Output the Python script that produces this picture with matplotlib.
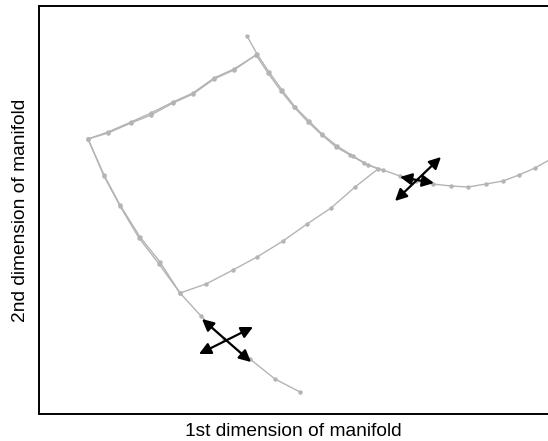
import matplotlib.pyplot as plt

# manifold coordinates of the sampled curves
# closed patch: top edge, right edge, middle edge, left edge
patch_x = [0.49, 0.69, 0.92, 1.12, 1.34, 1.54, 1.75, 1.95, 2.17,
           2.29, 2.42, 2.55, 2.69, 2.83, 2.97, 3.11, 3.25, 3.39,
           3.16, 2.92, 2.68, 2.44, 2.18, 1.94, 1.67, 1.41,
           1.20, 1.00, 0.81, 0.65, 0.49]
patch_y = [2.75, 2.81, 2.91, 2.99, 3.11, 3.20, 3.35, 3.44, 3.59,
           3.41, 3.23, 3.07, 2.92, 2.79, 2.67, 2.59, 2.51, 2.45,
           2.27, 2.06, 1.90, 1.73, 1.57, 1.44, 1.30, 1.21,
           1.50, 1.76, 2.08, 2.38, 2.75]

# curve running along the top and down the left side
curve1_x = [2.17, 1.95, 1.75, 1.54, 1.34, 1.12, 0.92, 0.69, 0.49,
            0.65, 0.81, 1.01, 1.21, 1.41, 1.62, 1.85, 2.11, 2.36, 2.61]
curve1_y = [3.59, 3.45, 3.36, 3.21, 3.12, 3.01, 2.92, 2.82, 2.75,
            2.39, 2.09, 1.77, 1.52, 1.21, 0.98, 0.75, 0.55, 0.35, 0.22]

# curve running down the right side and out to the right
curve2_x = [2.08, 2.18, 2.30, 2.43, 2.56, 2.70, 2.83, 2.98, 3.14, 3.29,
            3.44, 3.61, 3.77, 3.94, 4.12, 4.29, 4.47, 4.64, 4.80, 4.96, 5.12]
curve2_y = [3.78, 3.60, 3.42, 3.24, 3.07, 2.93, 2.80, 2.68, 2.58, 2.49,
            2.44, 2.38, 2.33, 2.30, 2.28, 2.27, 2.30, 2.33, 2.39, 2.46, 2.55]

# tangent vectors (start x, start y, end x, end y)
arrows = [
    (1.63, 0.95, 2.12, 0.52),
    (1.60, 0.60, 2.14, 0.87),
    (3.56, 2.13, 4.02, 2.57),
    (3.61, 2.37, 3.95, 2.31),
]

GREY = "#b4b4b4"

fig = plt.figure(figsize=(5.48, 4.41), dpi=100)
ax = fig.add_axes([39 / 548, 27 / 441, 1 - 39 / 548, 408 / 441])

for xs, ys in [(patch_x, patch_y), (curve1_x, curve1_y), (curve2_x, curve2_y)]:
    ax.plot(xs, ys, color=GREY, linewidth=1.0, marker="o",
            markersize=3.2, markeredgewidth=0)

for x0, y0, x1, y1 in arrows:
    ax.annotate("", xy=(x1, y1), xytext=(x0, y0),
                arrowprops=dict(arrowstyle="<|-|>,head_length=0.7,head_width=0.35",
                                color="black", lw=1.6,
                                shrinkA=0, shrinkB=0, mutation_scale=10))

ax.set_xlim(0, 5.09)
ax.set_ylim(0, 4.08)
ax.set_xticks([])
ax.set_yticks([])
ax.spines["right"].set_visible(False)
for side in ["left", "top", "bottom"]:
    ax.spines[side].set_linewidth(1.4)

ax.set_xlabel("1st dimension of manifold", fontsize=13.8,
              family="Liberation Sans", labelpad=6.5)
ax.set_ylabel("2nd dimension of manifold", fontsize=13.8,
              family="Liberation Sans", labelpad=7)

fig.savefig("out.png", dpi=100)
